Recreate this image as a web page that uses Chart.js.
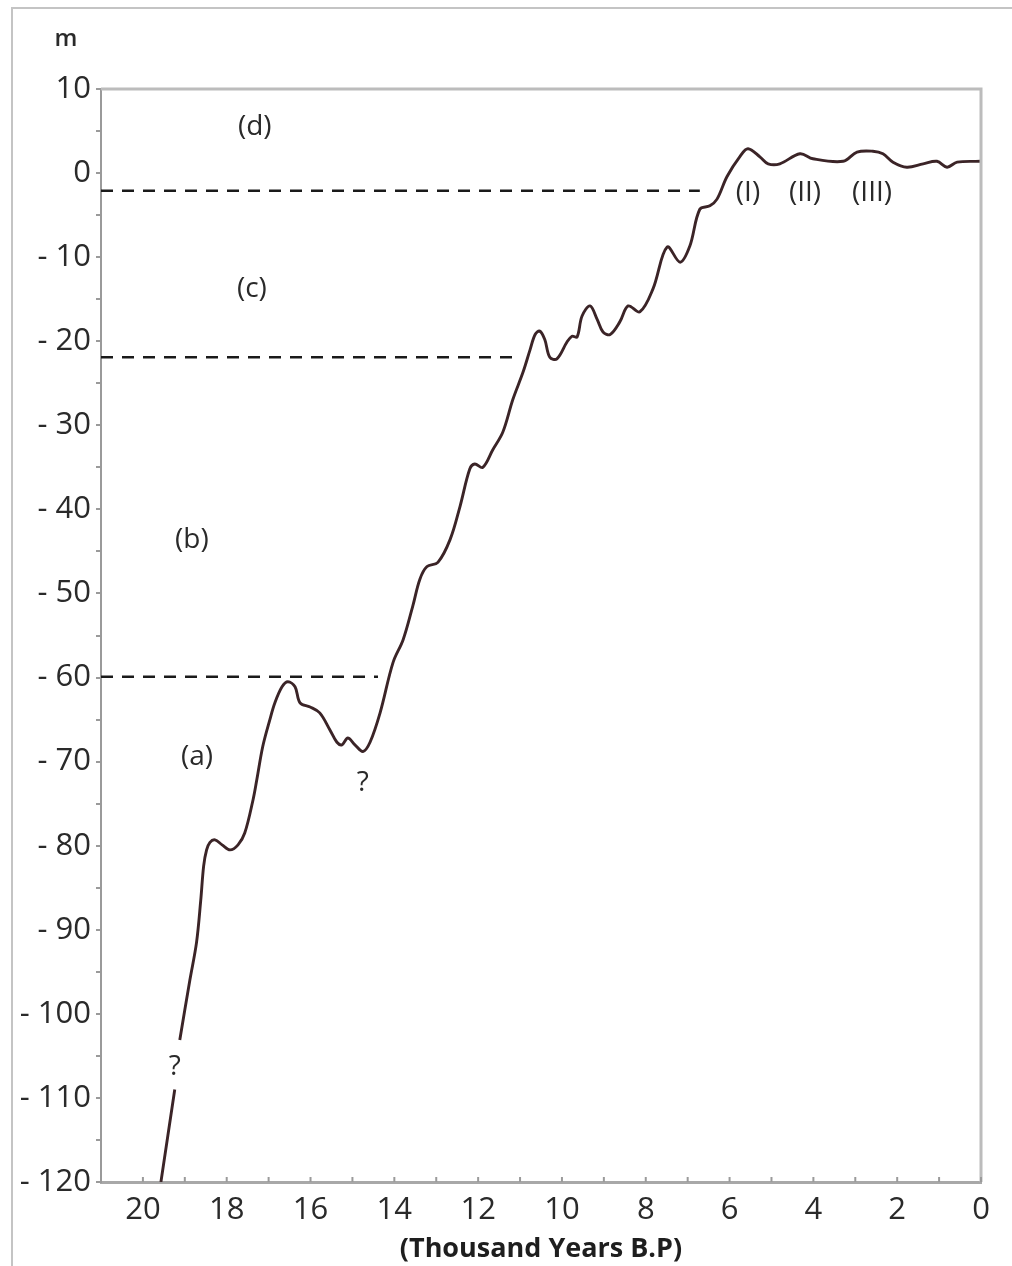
<!DOCTYPE html>
<html>
<head>
<meta charset="utf-8">
<script src="https://cdn.jsdelivr.net/npm/chart.js@4.4.1/dist/chart.umd.min.js"></script>
<style>
  body { margin: 0; background: #fff; overflow: hidden; }
  #wrap { position: relative; width: 1012px; height: 1266px; overflow: hidden; }
  #frame {
    position: absolute; left: 11px; top: 7px; width: 1100px; height: 1257px;
    border: 2px solid #c4c4c4; pointer-events: none;
  }
</style>
</head>
<body>
<div id="wrap">
  <canvas id="seaLevel" width="1012" height="1266"></canvas>
  <div id="frame"></div>
</div>
<script>
// age in thousand years B.P. and sea level in m
var curveAge = [19.57, 19.24, 19.18, 19.12, 18.88, 18.72, 18.62, 18.55, 18.48, 18.40, 18.28,
  18.11, 17.92, 17.73, 17.57, 17.37, 17.28, 17.14, 16.97, 16.85, 16.68,
  16.54, 16.37, 16.25, 16.01, 15.78, 15.54, 15.37, 15.25, 15.11, 14.94,
  14.75, 14.58, 14.34, 14.03, 13.79, 13.56, 13.39, 13.22, 12.96, 12.67,
  12.43, 12.20, 12.08, 11.89, 11.65, 11.41, 11.17, 10.93, 10.76, 10.64,
  10.53, 10.41, 10.29, 10.12, 9.88, 9.76, 9.64, 9.52, 9.33, 9.16,
  9.02, 8.85, 8.62, 8.42, 8.14, 7.83, 7.49, 7.18, 6.95, 6.71,
  6.47, 6.30, 6.06, 5.75, 5.56, 5.27, 5.08, 4.80, 4.32, 4.01,
  3.29, 2.96, 2.58, 2.34, 2.10, 1.77, 1.38, 1.05, 0.81, 0.57, 0.02];
var curveLevel = [-120, -109.0, null, -103.1, -96.0, -91.5, -86.5, -82.4, -80.5, -79.6, -79.3,
  -79.9, -80.5, -79.9, -78.5, -74.5, -72.1, -68.2, -65.0, -63.0, -61.1,
  -60.5, -61.1, -63.0, -63.5, -64.2, -66.2, -67.7, -68.0, -67.2, -68.0,
  -68.8, -67.7, -64.2, -58.2, -55.5, -51.5, -48.3, -46.8, -46.3, -43.6,
  -39.6, -35.2, -34.6, -35.0, -32.9, -30.8, -26.9, -23.7, -21.0, -19.2,
  -18.8, -19.8, -21.9, -22.1, -20.1, -19.4, -19.5, -17.0, -15.8, -17.4,
  -18.9, -19.2, -17.7, -15.8, -16.5, -13.8, -8.8, -10.6, -8.7, -4.3,
  -3.9, -3.1, -0.4, 2.0, 2.9, 1.9, 1.1, 1.1, 2.3, 1.7,
  1.4, 2.5, 2.6, 2.3, 1.3, 0.7, 1.1, 1.4, 0.7, 1.3, 1.4];

// dashed stage boundaries: level and where each line stops
var boundaryLevel = [-2.1, -21.9, -59.9];
var boundaryEnd = [6.71, 11.12, 14.39];

// text notes placed in data units
var noteText = ["(d)", "(c)", "(b)", "(a)", "?", "?", "(I)", "(II)", "(III)"];
var noteAge = [17.33, 17.4, 18.83, 18.71, 14.75, 19.24, 5.56, 4.2, 2.6];
var noteLevel = [5.5, -13.8, -43.6, -69.5, -72.5, -106.3, -2.4, -2.4, -2.4];

var FONT = "'Open Sans', 'Noto Sans', sans-serif";

var curvePts = [];
for (var i = 0; i < curveAge.length; i++) {
  curvePts.push({ x: curveAge[i], y: curveLevel[i] });
}

var datasets = [{
  data: curvePts,
  borderColor: "#3b2427",
  borderWidth: 2.9,
  pointRadius: 0,
  tension: 0.35,
  fill: false
}];
for (var j = 0; j < boundaryLevel.length; j++) {
  datasets.push({
    data: [{ x: 21, y: boundaryLevel[j] }, { x: boundaryEnd[j], y: boundaryLevel[j] }],
    borderColor: "#1a1a1a",
    borderWidth: 2.6,
    borderDash: [12, 9],
    pointRadius: 0,
    fill: false
  });
}

var decor = {
  id: "decor",
  afterDraw: function (chart) {
    var ctx = chart.ctx;
    var a = chart.chartArea;
    var xs = chart.scales.x;
    ctx.save();
    // top and right frame
    ctx.strokeStyle = "#bcbcbc";
    ctx.lineWidth = 3;
    ctx.beginPath();
    ctx.moveTo(a.left, a.top);
    ctx.lineTo(a.right, a.top);
    ctx.lineTo(a.right, a.bottom);
    ctx.stroke();
    // inward ticks on the age axis
    ctx.strokeStyle = "#9a9a9a";
    ctx.lineWidth = 2;
    xs.ticks.forEach(function (t) {
      var px = xs.getPixelForValue(t.value);
      ctx.beginPath();
      ctx.moveTo(px, a.bottom);
      ctx.lineTo(px, a.bottom - 5);
      ctx.stroke();
    });
    // notes
    ctx.fillStyle = "#2a2a2a";
    ctx.font = "28px " + FONT;
    ctx.textAlign = "center";
    ctx.textBaseline = "middle";
    for (var k = 0; k < noteText.length; k++) {
      ctx.fillText(noteText[k], xs.getPixelForValue(noteAge[k]),
        chart.scales.y.getPixelForValue(noteLevel[k]));
    }
    // unit label
    ctx.font = "600 24px " + FONT;
    ctx.fillText("m", 66, 39);
    ctx.restore();
  }
};

new Chart(document.getElementById("seaLevel"), {
  type: "line",
  data: { datasets: datasets },
  plugins: [decor],
  options: {
    responsive: false,
    devicePixelRatio: 1,
    animation: false,
    layout: { padding: { top: 89, right: 31, left: 0, bottom: 0 } },
    plugins: { legend: { display: false }, tooltip: { enabled: false } },
    scales: {
      x: {
        type: "linear",
        reverse: true,
        min: 0,
        max: 21,
        afterFit: function (s) { s.height = 84; },
        grid: { drawOnChartArea: false, drawTicks: false },
        border: { color: "#a8a8a8", width: 3 },
        ticks: {
          stepSize: 1,
          padding: 10,
          autoSkip: false,
          maxRotation: 0,
          color: "#2a2a2a",
          font: { family: FONT, size: 31 },
          callback: function (v) { return v % 2 === 0 && v <= 20 ? String(v) : ""; }
        },
        title: {
          display: true,
          text: "(Thousand Years B.P)",
          color: "#1e1e1e",
          font: { family: FONT, size: 27, weight: "bold" },
          padding: { top: 0, bottom: 0 }
        }
      },
      y: {
        min: -120,
        max: 10,
        afterFit: function (s) { s.width = 101; },
        grid: { drawOnChartArea: false, drawTicks: true, tickLength: 5, color: "#9a9a9a", lineWidth: 2 },
        border: { color: "#9a9a9a", width: 2 },
        ticks: {
          stepSize: 5,
          padding: 5,
          autoSkip: false,
          color: "#2a2a2a",
          font: { family: FONT, size: 31 },
          callback: function (v) {
            if (v % 10 !== 0) return "";
            return v < 0 ? "- " + (-v) : String(v);
          }
        }
      }
    }
  }
});
</script>
</body>
</html>
